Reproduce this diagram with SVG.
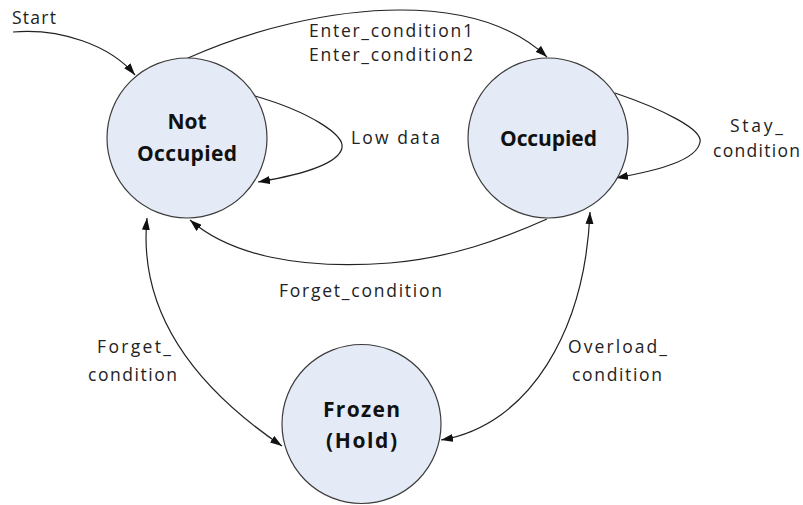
<svg xmlns="http://www.w3.org/2000/svg" width="803" height="505" viewBox="0 0 803 505">
<style>
.node{fill:#e5ebf6;stroke:#3c3c3c;stroke-width:1.2}
.nl{font-family:"Open Sans","Liberation Sans",sans-serif;font-weight:bold;font-size:21px;fill:#111;text-anchor:middle}
.lbl{font-family:"Open Sans","Liberation Sans",sans-serif;font-size:17.5px;fill:#222}
.edge{fill:none;stroke:#222;stroke-width:1.2}
</style>
<defs>
<marker id="arr" viewBox="0 0 12 8" refX="12" refY="4" markerWidth="12" markerHeight="8" orient="auto-start-reverse" markerUnits="userSpaceOnUse"><path d="M0,0 L12,4 L0,8 z" fill="#111"/></marker>
</defs>
<rect width="803" height="505" fill="#fff"/>
<g id="connectors">
<path class="edge" d="M13,32 C 60,28 110,45 135,75" marker-end="url(#arr)"/>
<path class="edge" d="M188,58 C 250,30 330,10 400,10 C 460,10 512,24 547,57" marker-end="url(#arr)"/>
<path class="edge" d="M255,96 C 310,112 345,135 342,148 C 338,165 300,175 258,182" marker-end="url(#arr)"/>
<path class="edge" d="M615,93 C 665,110 703,130 700,142 C 697,160 660,170 616,178" marker-end="url(#arr)"/>
<path class="edge" d="M547,219 C 500,240 450,258 390,263 C 300,270 230,255 190,220" marker-end="url(#arr)"/>
<path class="edge" d="M147,218 C 140,290 170,370 282,446" marker-start="url(#arr)" marker-end="url(#arr)"/>
<path class="edge" d="M590,212 C 585,330 530,425 441,440" marker-start="url(#arr)" marker-end="url(#arr)"/>
</g>
<g id="labels">
<text class="lbl" x="12" y="24" textLength="44">Start</text>
<text class="lbl" x="309" y="37" textLength="164">Enter_condition1</text>
<text class="lbl" x="309" y="61" textLength="164">Enter_condition2</text>
<text class="lbl" x="351" y="144" textLength="89">Low data</text>
<text class="lbl" x="730" y="132" textLength="53">Stay_</text>
<text class="lbl" x="713" y="157" textLength="87">condition</text>
<text class="lbl" x="279" y="297" textLength="163">Forget_condition</text>
<text class="lbl" x="97" y="353" textLength="74">Forget_</text>
<text class="lbl" x="88" y="381" textLength="89">condition</text>
<text class="lbl" x="568" y="353" textLength="99">Overload_</text>
<text class="lbl" x="572" y="381" textLength="90">condition</text>
</g>
<g id="not-occupied">
<circle class="node" cx="187" cy="138" r="80"/>
<text class="nl" x="187" y="129">Not</text>
<text class="nl" x="187" y="161" textLength="100">Occupied</text>
</g>
<g id="occupied">
<circle class="node" cx="548" cy="138" r="80"/>
<text class="nl" x="548.5" y="146" textLength="97">Occupied</text>
</g>
<g id="frozen">
<circle class="node" cx="361.5" cy="424" r="79.5"/>
<text class="nl" x="361.5" y="417" textLength="77">Frozen</text>
<text class="nl" x="361.5" y="448" textLength="71">(Hold)</text>
</g>
</svg>
